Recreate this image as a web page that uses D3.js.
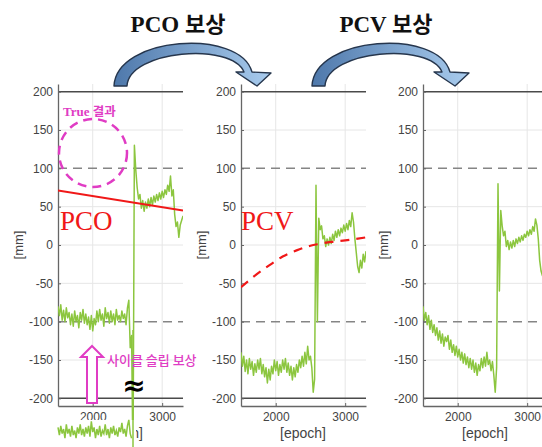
<!DOCTYPE html>
<html><head><meta charset="utf-8">
<script src="https://cdn.jsdelivr.net/npm/d3@7"></script>
<style>
html,body{margin:0;padding:0;background:#fff;}
svg{display:block;}
</style></head>
<body>
<svg id="chart" width="542" height="447"></svg>
<script>
// ---------- data ----------
const epochs = d3.range(1500, 3301, 20); // sample epochs
const yTicks = [-200, -150, -100, -50, 0, 50, 100, 150, 200];
const xTicks = [2000, 3000];
const titles = ["PCO 보상", "PCV 보상"];

const pcoValues = [
  -80,-92,-78,-98,-85,-100,-82,-95,-88,-104,
  -90,-106,-86,-100,-92,-108,-88,-98,-84,-102,
  -90,-104,-94,-110,-92,-112,-96,-104,-86,-100,
  -84,-98,-90,-106,-82,-96,-88,-102,-86,-100,
  -90,-104,-84,-98,-92,-100,-86,-96,-90,-104,
  -82,-72,-134,-118,-290,130,98,75,60,66,
  48,58,44,56,48,60,50,62,52,64,
  56,66,58,68,60,70,62,72,66,78,
  70,90,64,72,40,24,30,10,26,32,38
];
const pcoSlipValues = [
  -238,-248,-236,-246,-240,-252,-234,-246,-240,-250,
  -236,-248,-242,-252,-238,-246,-234,-248,-240,-250,
  -238,-246,-236,-250,-230,-244,-238,-252,-240,-248,
  -236,-250,-242,-246,-234,-248,-240,-252,-238,-246,
  -236,-248,-242,-250,-238,-244,-232,-246,-240,-250,
  -236,-228,-246,-252
];
const pcvValues = [
  -140,-158,-145,-165,-150,-168,-148,-162,-152,-170,
  -155,-166,-150,-162,-148,-168,-156,-172,-160,-180,
  -162,-176,-158,-168,-150,-164,-152,-170,-156,-166,
  -150,-162,-148,-166,-154,-170,-158,-176,-160,-172,
  -156,-166,-150,-160,-145,-158,-140,-155,-132,-150,
  -145,-160,-192,-175,78,-100,35,20,25,8,
  12,-2,8,0,10,2,14,6,18,10,
  20,12,22,16,26,18,28,20,32,24,
  42,30,8,-10,-28,-36,-20,-30,-12,-22,-8
];
const finalValues = [
  -80,-98,-88,-104,-92,-110,-98,-114,-104,-118,
  -108,-124,-112,-128,-116,-132,-120,-126,-118,-136,
  -124,-140,-130,-144,-132,-146,-136,-150,-140,-154,
  -142,-156,-146,-160,-148,-162,-150,-166,-154,-170,
  -156,-164,-148,-160,-146,-158,-140,-156,-150,-164,
  -152,-170,-192,-160,80,-60,45,25,12,18,
  -2,6,-6,4,-4,6,-2,8,2,10,
  4,12,6,14,10,18,12,20,14,24,
  18,34,26,8,-20,-34,-40,-30,-20,-25,-15
];
// model curves
const pcoLineEpochs = [1500, 3300];
const pcoLineValues = [71, 45];
const pcvCurveEpochs = [1500, 1700, 1900, 2100, 2300, 2500, 2600, 2800, 3000, 3300];
const pcvCurveValues = [-55, -40, -27, -15, -7, -1, 1, 4, 6, 10];

// ---------- layout ----------
const svg = d3.select("#chart");
const defs = svg.append("defs");
const GREEN = "#8cc63f", MAG = "#e03cc4", RED = "#f01818";
const plotTop = 84, plotBottom = 406, pw = 125;
const y = d3.scaleLinear().domain([-210, 210]).range([plotBottom, plotTop]);
const panelX = [58, 241, 423];

function drawPanel(k, values, clipBottom) {
  const x0 = panelX[k];
  const x = d3.scaleLinear().domain([1500, 3300]).range([x0, x0 + pw]);
  const g = svg.append("g");
  const cid = "clip" + k;
  defs.append("clipPath").attr("id", cid).append("rect")
    .attr("x", x0).attr("y", plotTop).attr("width", pw).attr("height", clipBottom - plotTop);
  // grid
  const grid = g.append("g");
  grid.selectAll(".hg").data(yTicks.filter(v => Math.abs(v) !== 100 && Math.abs(v) !== 200))
    .join("line").attr("x1", x0).attr("x2", x0 + pw)
    .attr("y1", d => y(d)).attr("y2", d => y(d))
    .attr("stroke", "#e6e6e6").attr("stroke-width", 1);
  grid.selectAll(".vg").data(xTicks).join("line")
    .attr("x1", d => x(d)).attr("x2", d => x(d)).attr("y1", plotTop).attr("y2", plotBottom)
    .attr("stroke", "#e6e6e6").attr("stroke-width", 1);
  // dashed +-100
  grid.selectAll(".dl").data([100, -100]).join("line")
    .attr("x1", x0).attr("x2", x0 + pw).attr("y1", d => y(d)).attr("y2", d => y(d))
    .attr("stroke", "#858585").attr("stroke-width", 1.5).attr("stroke-dasharray", "9,6");
  // solid +-200
  grid.selectAll(".sl").data([200, -200]).join("line")
    .attr("x1", x0).attr("x2", x0 + pw).attr("y1", d => y(d)).attr("y2", d => y(d))
    .attr("stroke", "#4a4a4a").attr("stroke-width", 1.5);
  // axes
  const ya = g.append("g").attr("transform", `translate(${x0},0)`)
    .call(d3.axisLeft(y).tickValues(yTicks).tickFormat(d => String(d))
      .tickSizeInner(-3).tickSizeOuter(0).tickPadding(5));
  const xa = g.append("g").attr("transform", `translate(0,${plotBottom})`)
    .call(d3.axisBottom(x).tickValues(xTicks).tickFormat(d => String(d))
      .tickSizeInner(-3).tickSizeOuter(0).tickPadding(6));
  [ya, xa].forEach(a => {
    a.select(".domain").attr("stroke", "#666").attr("stroke-width", 1.3);
    a.selectAll(".tick line").attr("stroke", "#666");
    a.selectAll(".tick text").attr("fill", "#444").attr("font-size", 12)
      .attr("font-family", "'Liberation Sans', Arial, sans-serif");
  });
  // labels
  svg.append("text").attr("transform", `translate(${x0 - 40},245) rotate(-90)`)
    .attr("text-anchor", "middle").attr("dominant-baseline", "central")
    .attr("font-family", "'Liberation Sans', Arial, sans-serif").attr("font-size", 13)
    .attr("fill", "#444").text("[mm]");
  svg.append("text").attr("x", x0 + 62).attr("y", 438)
    .attr("text-anchor", "middle")
    .attr("font-family", "'Liberation Sans', Arial, sans-serif").attr("font-size", 14)
    .attr("fill", "#444").text("[epoch]");
  // data
  const line = d3.line().x((d, i) => x(epochs[i])).y(d => y(d));
  g.append("path").datum(values).attr("clip-path", `url(#${cid})`)
    .attr("d", line).attr("fill", "none").attr("stroke", GREEN).attr("stroke-width", 1.5)
    .attr("stroke-linejoin", "round");
  return { g, x, cid };
}

const p1 = drawPanel(0, pcoValues, 447);
const p2 = drawPanel(1, pcvValues, plotBottom);
const p3 = drawPanel(2, finalValues, plotBottom);

// panel 1 model line
p1.g.append("path").datum(pcoLineValues).attr("clip-path", "url(#clip0)")
  .attr("d", d3.line().x((d, i) => p1.x(pcoLineEpochs[i])).y(d => y(d)))
  .attr("fill", "none").attr("stroke", RED).attr("stroke-width", 2);
// panel 2 model curve
p2.g.append("path").datum(pcvCurveValues).attr("clip-path", "url(#clip1)")
  .attr("d", d3.line().curve(d3.curveMonotoneX).x((d, i) => p2.x(pcvCurveEpochs[i])).y(d => y(d)))
  .attr("fill", "none").attr("stroke", RED).attr("stroke-width", 2.2).attr("stroke-dasharray", "9,7");

// panel 1 lower inset (cycle-slipped segment)
svg.append("rect").attr("x", 58).attr("y", 420).attr("width", 78).attr("height", 27).attr("fill", "#fff");
svg.append("path").datum(pcoSlipValues)
  .attr("d", d3.line().x((d, i) => p1.x(epochs[i])).y(d => y(d)))
  .attr("fill", "none").attr("stroke", GREEN).attr("stroke-width", 1.5);
svg.append("line").attr("x1", p1.x(2580)).attr("x2", p1.x(2580)).attr("y1", 330).attr("y2", 447)
  .attr("stroke", GREEN).attr("stroke-width", 1.5);

// annotations panel 1
svg.append("text").attr("x", 60).attr("y", 230).attr("fill", RED)
  .attr("font-family", "'Liberation Serif', 'Times New Roman', serif").attr("font-size", 27).text("PCO");
svg.append("circle").attr("cx", 93).attr("cy", 153).attr("r", 34)
  .attr("fill", "none").attr("stroke", MAG).attr("stroke-width", 2.5).attr("stroke-dasharray", "9,6");
const tt = svg.append("text").attr("x", 63).attr("y", 116).attr("fill", MAG).attr("font-weight", "bold")
  .attr("font-size", 13);
tt.append("tspan").attr("font-family", "'Liberation Serif', serif").text("True ");
tt.append("tspan").attr("font-family", "'Noto Sans CJK KR', sans-serif").attr("font-size", 12.5).text("결과");
// hollow up arrow
svg.append("path")
  .attr("d", `M92,346 L103,357 L97,357 L97,403 L87,403 L87,357 L81,357 Z`)
  .attr("fill", "#fff").attr("stroke", MAG).attr("stroke-width", 2).attr("stroke-linejoin", "miter");
svg.append("text").attr("x", 107).attr("y", 365).attr("fill", MAG).attr("font-weight", 500)
  .attr("font-family", "'Noto Sans CJK KR', sans-serif").attr("font-size", 13).text("사이클 슬립 보상");
svg.append("text").attr("x", 134).attr("y", 395).attr("text-anchor", "middle").attr("fill", "#000")
  .attr("font-family", "'DejaVu Sans', sans-serif").attr("font-weight", "bold").attr("font-size", 28).text("≈");

// annotations panel 2
svg.append("text").attr("x", 241).attr("y", 230).attr("fill", RED)
  .attr("font-family", "'Liberation Serif', 'Times New Roman', serif").attr("font-size", 27).text("PCV");

// ---------- top arrows and titles ----------
const grad = defs.append("linearGradient").attr("id", "ag").attr("x1", "0").attr("x2", "1").attr("y1", "0").attr("y2", "0");
grad.append("stop").attr("offset", "0").attr("stop-color", "#4e78ab");
grad.append("stop").attr("offset", "1").attr("stop-color", "#a9ccee");
const arrowPath = "M114,86 C116,36 240,28 252,72 L271,73 L257,86 L236,72 L244,72 C232,42 129,50 127,86 Z";
[0, 198].forEach(dx => {
  svg.append("path").attr("d", arrowPath).attr("transform", `translate(${dx},0)`)
    .attr("fill", "url(#ag)").attr("stroke", "#26364d").attr("stroke-width", 1.4).attr("stroke-linejoin", "round");
});
const titleX = [178, 386];
titles.forEach((t, i) => {
  const [a, b] = t.split(" ");
  const tx = svg.append("text").attr("x", titleX[i]).attr("y", 32).attr("text-anchor", "middle")
    .attr("font-weight", "bold").attr("font-size", 23).attr("fill", "#111");
  tx.append("tspan").attr("font-family", "'Liberation Serif', serif").text(a + " ");
  tx.append("tspan").attr("font-family", "'Noto Sans CJK KR', sans-serif").attr("font-size", 22).text(b);
});
</script>
</body></html>
